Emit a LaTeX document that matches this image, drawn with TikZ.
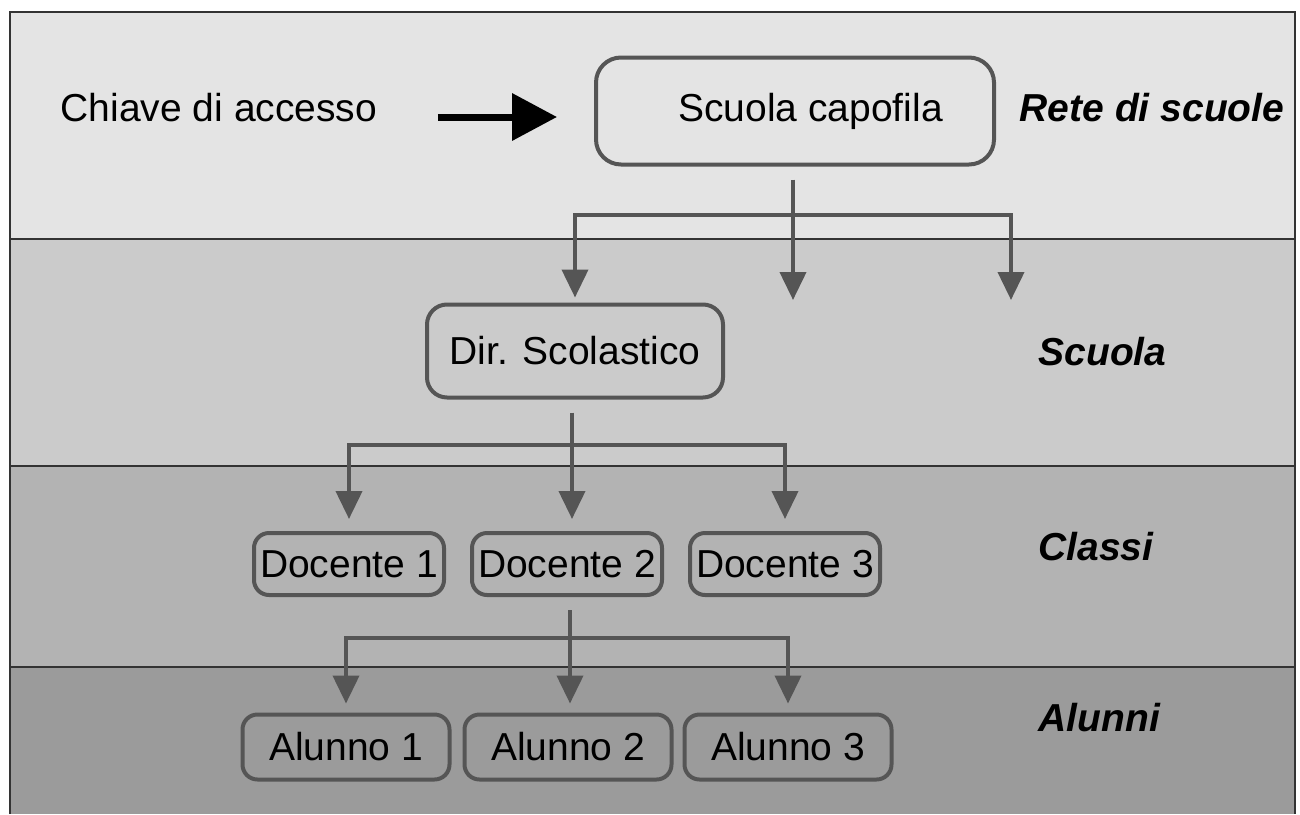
\documentclass[tikz,border=0pt]{standalone}
\usepackage{fontspec}
\setmainfont{Liberation Sans}
\usetikzlibrary{arrows.meta,positioning}

\definecolor{bandA}{HTML}{E4E4E4}
\definecolor{bandB}{HTML}{CBCBCB}
\definecolor{bandC}{HTML}{B3B3B3}
\definecolor{bandD}{HTML}{9B9B9B}
\definecolor{boxline}{HTML}{555555}

\begin{document}
\begin{tikzpicture}[x=1pt,y=-1pt,node distance=218pt,font=\fontsize{39}{46}\selectfont]
\tikzstyle{box}=[draw=boxline,line width=4pt,rounded corners=15pt,inner sep=2pt]
\tikzstyle{layer}=[font=\fontsize{39}{46}\selectfont\bfseries\itshape,anchor=west]
\tikzstyle{link}=[draw=boxline,line width=4pt,-{Triangle[length=28pt,width=26pt]}]
\useasboundingbox (0,0) rectangle (1300,814);
% fasce
\fill[bandA] (10,12) rectangle (1295,239);
\fill[bandB] (10,239) rectangle (1295,466);
\fill[bandC] (10,466) rectangle (1295,667);
\fill[bandD] (10,667) rectangle (1295,814);
\draw[line width=1.5pt,black!80] (10,814) -- (10,12) -- (1295,12) -- (1295,814);
\draw[line width=1.5pt,black!80] (10,239) -- (1295,239) (10,466) -- (1295,466) (10,667) -- (1295,667);
% nodi
\node (key) at (219,108) {Chiave di accesso};
\node [box,rounded corners=25pt,minimum width=398pt,minimum height=107pt] (cap) at (795,111) {\hspace{0.8em}Scuola capofila};
\node [box,rounded corners=20pt,minimum width=296pt,minimum height=93pt] (dir) at (575,351) {Dir. Scolastico\hspace{0.35em}};
\node [box,minimum width=190pt,minimum height=62pt] (d2) at (567,564) {Docente 2};
\node [box,minimum width=190pt,minimum height=62pt,left of=d2] (d1) {Docente 1};
\node [box,minimum width=190pt,minimum height=62pt,right of=d2] (d3) {Docente 3};
\node [box,minimum width=207pt,minimum height=65pt] (a2) at (568,747) {Alunno 2};
\node [box,minimum width=207pt,minimum height=65pt,left of=a2,node distance=222pt] (a1) {Alunno 1};
\node [box,minimum width=207pt,minimum height=65pt,right of=a2,node distance=220pt] (a3) {Alunno 3};
\node [layer,anchor=center] (l1) at (1152,108) {Rete di scuole};
\node [layer] (l2) at (1035,352) {Scuola};
\node [layer] (l3) at (1035,547) {Classi};
\node [layer] (l4) at (1035,718) {Alunni};
\coordinate (f1) at (793,215);
\coordinate (e2) at (793,300);
\coordinate (e3) at (1011,300);
\coordinate (f2) at (572,445);
\coordinate (f3) at (570,638);
% frecce
\draw[line width=7pt,-{Triangle[length=45pt,width=46pt]}] ([xshift=57pt,yshift=-9pt]key.east) -- ([xshift=-37pt,yshift=-6pt]cap.west);
\draw[link,-,shorten <=13pt] (cap.south -| f1) -- (f1);
\draw[link,shorten >=5pt] (f1) -| (dir);
\draw[link] (f1) -- (e2);
\draw[link] (f1) -| (e3);
\draw[link,-,shorten <=13pt] (dir.south -| f2) -- (f2);
\draw[link,shorten >=12pt] (f2) -| (d1);
\draw[link,shorten >=12pt] (f2) -- (f2 |- d2.north);
\draw[link,shorten >=12pt] (f2) -| (d3);
\draw[link,-,shorten <=13pt] (d2.south -| f3) -- (f3);
\draw[link,shorten >=9pt] (f3) -| (a1);
\draw[link,shorten >=9pt] (f3) -- (f3 |- a2.north);
\draw[link,shorten >=9pt] (f3) -| (a3);
\end{tikzpicture}
\end{document}
